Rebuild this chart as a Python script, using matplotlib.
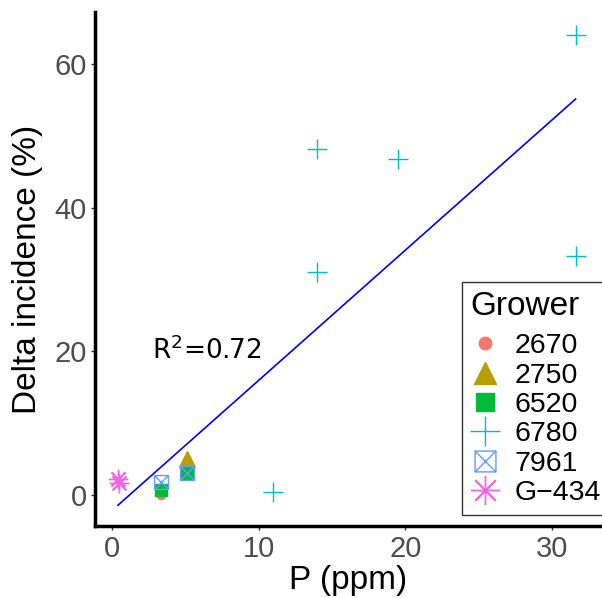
import matplotlib
matplotlib.use("Agg")
import matplotlib.pyplot as plt
import numpy as np
from matplotlib.path import Path

# ---- data --------------------------------------------------------------------
growers = ["2670", "2750", "6520", "6780", "7961", "G\u2212434"]
p_2670, d_2670 = [3.35], [0.0]
p_2750, d_2750 = [5.1], [5.0]
p_6520, d_6520 = [3.35, 5.1], [0.7, 3.1]
p_6780, d_6780 = [11.0, 14.0, 14.0, 19.5, 31.6, 31.6], [0.4, 31.0, 48.2, 46.7, 33.3, 64.0]
p_7961, d_7961 = [3.35, 5.1], [1.8, 3.1]
p_g434, d_g434 = [0.4, 0.5], [2.2, 1.7]
fit_x = [0.4, 31.6]
slope, intercept = 1.81, -2.1
r2_label = "R$^{2}$=0.72"

colors = ["#F8766D", "#B79F00", "#00BA38", "#00BFC4", "#619CFF", "#F564E3"]

# square with an X inside (ggplot shape 7)
sq_x = Path([(-1, -1), (1, -1), (1, 1), (-1, 1), (-1, -1),
             (-1, -1), (1, 1), (-1, 1), (1, -1)],
            [Path.MOVETO, Path.LINETO, Path.LINETO, Path.LINETO, Path.CLOSEPOLY,
             Path.MOVETO, Path.LINETO, Path.MOVETO, Path.LINETO])

plt.rcParams["font.family"] = ["Liberation Sans", "DejaVu Sans"]

fig = plt.figure(figsize=(6.02, 5.98), dpi=100)
ax = fig.add_axes([0.158, 0.12, 0.842, 0.86])

xs = np.array(fit_x)
ax.plot(xs, slope * xs + intercept, color="#0000FF", lw=1.2, zorder=1)

series = [
    (p_2670, d_2670, dict(marker="o", ms=6, color=colors[0], ls="none")),
    (p_2750, d_2750, dict(marker="^", ms=11, color=colors[1], ls="none")),
    (p_6520, d_6520, dict(marker="s", ms=9, color=colors[2], ls="none")),
    (p_6780, d_6780, dict(marker="+", ms=14, mew=1.0, color=colors[3], ls="none")),
    (p_7961, d_7961, dict(marker=sq_x, ms=10, mew=1.0, mfc="none", color=colors[4], ls="none")),
    (p_g434, d_g434, dict(marker=(8, 2, 0), ms=14, mew=1.0, color=colors[5], ls="none")),
]
handles = []
for (x, y, kw), name in zip(series, growers):
    h, = ax.plot(x, y, label=name, zorder=2, **kw)
    handles.append(h)

ax.text(2.7, 19, r2_label, fontsize=19, family="DejaVu Sans", color="black")

ax.set_xlim(-1.16, 33.4)
ax.set_ylim(-4.3, 67.2)
ax.set_xticks([0, 10, 20, 30])
ax.set_yticks([0, 20, 40, 60])
ax.tick_params(labelsize=21, labelcolor="#4D4D4D", length=3, width=1,
               color="#333333", pad=3)
ax.set_xlabel("P (ppm)", fontsize=24, labelpad=2)
ax.set_ylabel("Delta incidence (%)", fontsize=24, labelpad=8)
for s in ("top", "right"):
    ax.spines[s].set_visible(False)
for s in ("left", "bottom"):
    ax.spines[s].set_linewidth(2.5)

leg = ax.legend(handles=handles, title="Grower", loc="upper left",
                bbox_to_anchor=(0.724, 0.474), fontsize=20.5, title_fontsize=24,
                frameon=True, fancybox=False, edgecolor="black", markerscale=1.5,
                handlelength=1.0, handletextpad=0.55, labelspacing=0.12,
                borderpad=0.3, borderaxespad=0, alignment="left")
leg.get_frame().set_linewidth(1.0)
leg._legend_box.sep = 8  # a bit more room under the title, as in the reference

fig.savefig("out.png", dpi=100)
